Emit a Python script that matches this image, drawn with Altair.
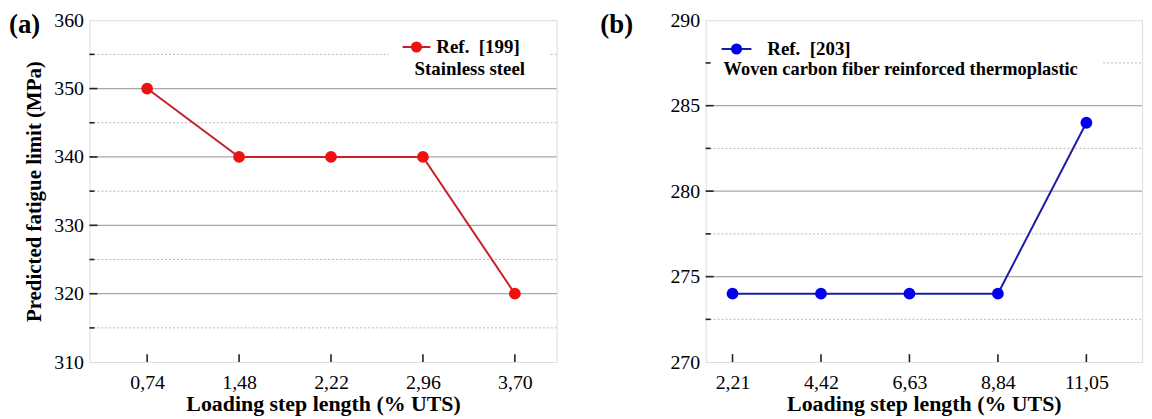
import altair as alt
import pandas as pd

# ---- data ----
xa = [0.74, 1.48, 2.22, 2.96, 3.70]
ya = [350, 340, 340, 340, 320]
xb = [2.21, 4.42, 6.63, 8.84, 11.05]
yb = [274, 274, 274, 274, 284]

ya_major = [310, 320, 330, 340, 350, 360]
ya_minor = [315, 325, 335, 345, 355]
yb_major = [270, 275, 280, 285, 290]
yb_minor = [272.5, 277.5, 282.5, 287.5]

FONT = "Liberation Serif"
H = 344


def panel(xs, ys, xdom, ydom, major, minor, line_c, pt_c, ref, desc, tag,
          width, ytitle, leg):
    xscale = alt.Scale(domain=xdom, nice=False, zero=False)
    yscale = alt.Scale(domain=ydom, nice=False, zero=False)
    xaxis = alt.Axis(values=xs, labelExpr="replace(format(datum.value, '.2f'), '.', ',')",
                     ticks=False, domain=False, grid=False, labelPadding=11,
                     title="Loading step length (% UTS)", titlePadding=1)
    if ytitle:
        yaxis = alt.Axis(values=major, ticks=False, domain=False, grid=False,
                         labelPadding=6, title=ytitle, titlePadding=9,
                         titleFontSize=21)
    else:
        yaxis = alt.Axis(values=major, ticks=False, domain=False, grid=False,
                         labelPadding=6, title=None)
    X = alt.X("x:Q", scale=xscale, axis=xaxis)
    Y = alt.Y("y:Q", scale=yscale, axis=yaxis)

    main = pd.DataFrame({"x": xs, "y": ys})
    inner_major = pd.DataFrame({"y": major[1:-1]})
    minor_df = pd.DataFrame({"y": minor})
    xt = pd.DataFrame({"x": xs})

    grid_major = alt.Chart(inner_major).mark_rule(color="#a8a8a8", strokeWidth=1.2).encode(
        y=Y, x=alt.value(0), x2=alt.value(width))
    grid_minor = alt.Chart(minor_df).mark_rule(color="#b8b8b8", strokeWidth=1,
                                               strokeDash=[2, 2]).encode(
        y=Y, x=alt.value(0), x2=alt.value(width))

    bx = leg
    box = alt.Chart(pd.DataFrame({"k": [0]})).mark_rect(color="white").encode(
        x=alt.value(bx["box"][0]), x2=alt.value(bx["box"][1]),
        y=alt.value(bx["box"][2]), y2=alt.value(bx["box"][3]))

    ytick_major = alt.Chart(inner_major).mark_rule(color="#222", strokeWidth=1.6).encode(
        y=Y, x=alt.value(0), x2=alt.value(8))
    ytick_minor = alt.Chart(minor_df).mark_rule(color="#222", strokeWidth=1.6).encode(
        y=Y, x=alt.value(0), x2=alt.value(5))
    xtick = alt.Chart(xt).mark_rule(color="#222", strokeWidth=1.6).encode(
        x=X, y=alt.value(H), y2=alt.value(H - 8))

    line = alt.Chart(main).mark_line(color=line_c, strokeWidth=2).encode(x=X, y=Y)
    pts = alt.Chart(main).mark_circle(color=pt_c, size=140, opacity=1).encode(x=X, y=Y)

    one = pd.DataFrame({"k": [0]})
    lx0, lx1, ly = bx["line"]
    leg_line = alt.Chart(one).mark_rule(color=line_c, strokeWidth=2).encode(
        x=alt.value(lx0), x2=alt.value(lx1), y=alt.value(ly))
    leg_pt = alt.Chart(one).mark_circle(color=pt_c, size=125, opacity=1).encode(
        x=alt.value((lx0 + lx1) / 2), y=alt.value(ly))
    leg_ref = alt.Chart(one).mark_text(font=FONT, fontSize=19, fontWeight="bold",
                                       align="left", baseline="middle", color="black").encode(
        x=alt.value(bx["ref"][0]), y=alt.value(bx["ref"][1]), text=alt.value(ref))
    leg_desc = alt.Chart(one).mark_text(font=FONT, fontSize=bx["dsize"], fontWeight="bold",
                                        align="left", baseline="middle", color="black").encode(
        x=alt.value(bx["desc"][0]), y=alt.value(bx["desc"][1]), text=alt.value(desc))
    tag_t = alt.Chart(one).mark_text(font=FONT, fontSize=27, fontWeight="bold",
                                     align="left", baseline="middle", color="black").encode(
        x=alt.value(bx["tag"][0]), y=alt.value(bx["tag"][1]), text=alt.value(tag))

    return alt.layer(grid_minor, grid_major, box, ytick_minor, ytick_major, xtick,
                     line, pts, leg_line, leg_pt, leg_ref, leg_desc, tag_t).properties(
        width=width, height=H)


pa = panel(xa, ya, [0.276, 4.036], [310, 360], ya_major, ya_minor,
           "#c8202a", "#ee1111", "Ref.\u00a0 [199]", "Stainless steel", "(a)",
           470, "Predicted fatigue limit (MPa)",
           {"box": [301, 462, 10, 62], "line": [315, 343, 27], "ref": [349, 27],
            "desc": [327, 49], "dsize": 19, "tag": [-81, 5]})
pb = panel(xb, yb, [1.54, 12.44], [270, 290], yb_major, yb_minor,
           "#1c1ca8", "#0000ee", "Ref.\u00a0 [203]",
           "Woven carbon fiber reinforced thermoplastic", "(b)",
           439, None,
           {"box": [2, 399, 10, 62], "line": [16, 46, 29], "ref": [62, 29],
            "desc": [18, 49], "dsize": 18.5, "tag": [-106, 5]})

chart = alt.hconcat(pa, pb, spacing=41).properties(padding=0).configure_view(
    stroke="#222", strokeWidth=2).configure(background="white").configure_axis(
    labelFont=FONT, labelFontSize=20, labelColor="black",
    titleFont=FONT, titleFontSize=22, titleFontWeight="bold", titleColor="black")

chart.save("out.html", embed_options={"renderer": "svg", "actions": False})
